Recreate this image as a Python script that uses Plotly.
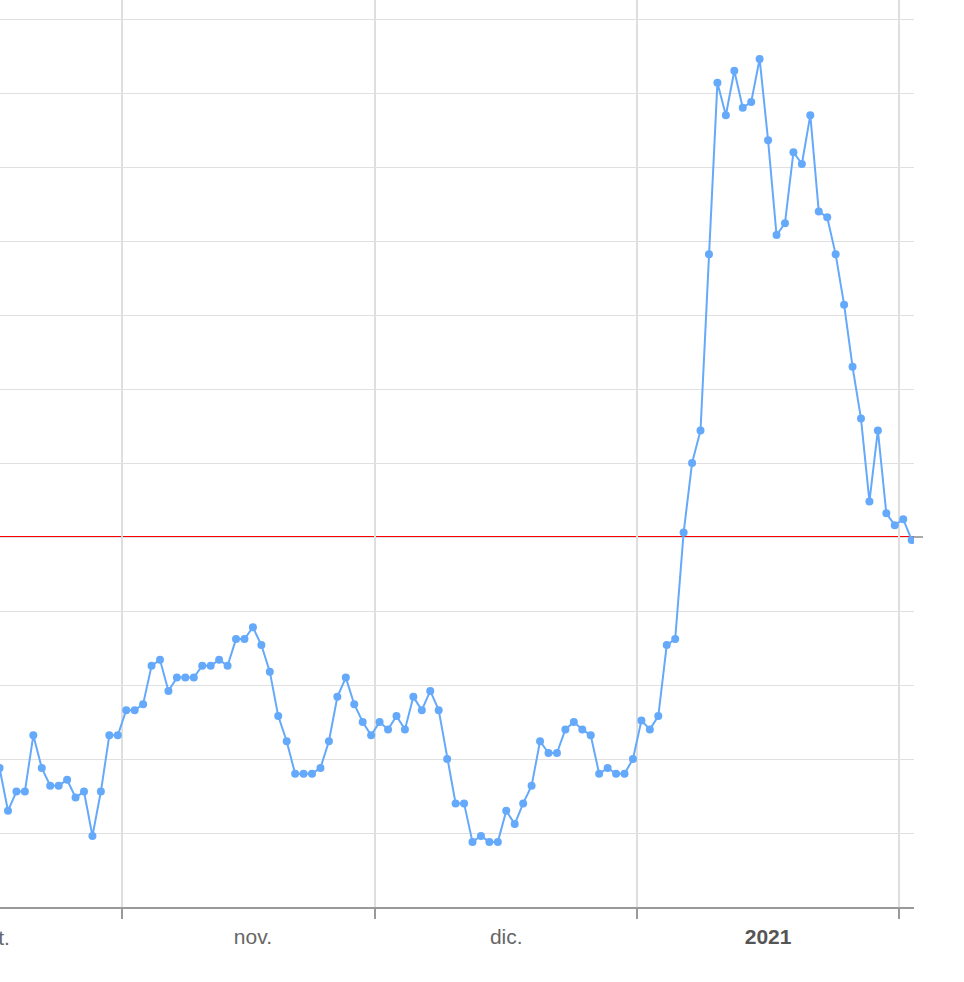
import pandas as pd
import plotly.graph_objects as go

# ---- data ----
start_date = "2020-10-17 12:00"
values = [
    0.844, 0.815, 0.828, 0.828, 0.866, 0.844, 0.832, 0.832, 0.836, 0.824,
    0.828, 0.798, 0.828, 0.866, 0.866, 0.883, 0.883, 0.887, 0.913, 0.917,
    0.896, 0.905, 0.905, 0.905, 0.913, 0.913, 0.917, 0.913, 0.931, 0.931,
    0.939, 0.927, 0.909, 0.879, 0.862, 0.840, 0.840, 0.840, 0.844, 0.862,
    0.892, 0.905, 0.887, 0.875, 0.866, 0.875, 0.870, 0.879, 0.870, 0.892,
    0.883, 0.896, 0.883, 0.850, 0.820, 0.820, 0.794, 0.798, 0.794, 0.794,
    0.815, 0.806, 0.820, 0.832, 0.862, 0.854, 0.854, 0.870, 0.875, 0.870,
    0.866, 0.840, 0.844, 0.840, 0.840, 0.850, 0.876, 0.870, 0.879, 0.927,
    0.931, 1.003, 1.050, 1.072, 1.191, 1.307, 1.285, 1.315, 1.290, 1.294,
    1.323, 1.268, 1.204, 1.212, 1.260, 1.252, 1.285, 1.220, 1.216, 1.191,
    1.157, 1.115, 1.080, 1.024, 1.072, 1.016, 1.008, 1.012, 0.998,
]
threshold = 1.0

month_starts = ["2020-10-01", "2020-11-01", "2020-12-01", "2021-01-01", "2021-02-01"]
label_dates = ["2020-11-16 12:00", "2020-12-16 12:00", "2021-01-16 12:00"]
label_texts = ["nov.", "dic.", "<b><span style='color:#555555'>2021</span></b>"]
partial_label_text = "oct."

x_range = ["2020-10-17 13:19", "2021-02-02 18:38"]
y_range = [0.75, 1.36284]

dates = pd.date_range(start_date, periods=len(values), freq="D")

BLUE = "#65a9fb"
FONT = "Liberation Sans, Arial, Helvetica, sans-serif"

fig = go.Figure()
fig.add_trace(go.Scatter(
    x=dates, y=values, mode="lines+markers",
    line=dict(color=BLUE, width=2),
    marker=dict(color=BLUE, size=8),
    showlegend=False, hoverinfo="x+y",
))

# threshold line
fig.add_shape(type="line", xref="paper", yref="y", x0=0, x1=1,
              y0=threshold, y1=threshold, layer="between",
              line=dict(color="#ff0000", width=2))
fig.add_shape(type="line", xref="paper", yref="y", x0=1, x1=1.0098,
              y0=threshold, y1=threshold, layer="between",
              line=dict(color="#aaaaaa", width=2))

# partially visible month label at the left edge (its period starts before the range)
fig.add_annotation(x=0, xref="paper", xanchor="right", xshift=12,
                   y=0, yref="paper", yanchor="middle", yshift=-30,
                   showarrow=False, text=partial_label_text,
                   font=dict(family=FONT, size=21, color="#666666"))

fig.update_layout(
    width=964, height=982,
    margin=dict(l=0, r=50, t=0, b=75),
    paper_bgcolor="white", plot_bgcolor="white",
    font=dict(family=FONT, size=21, color="#666666"),
    xaxis=dict(
        type="date", range=x_range,
        tickmode="array", tickvals=label_dates, ticktext=label_texts,
        ticks="outside", ticklen=10, tickcolor="rgba(0,0,0,0)",
        showgrid=False, zeroline=False,
        showline=True, linecolor="#999999", linewidth=2,
        minor=dict(tickmode="array", tickvals=month_starts,
                   ticks="outside", ticklen=10, tickwidth=2, tickcolor="#999999",
                   showgrid=True, gridcolor="#dedede", gridwidth=1.5),
        fixedrange=True,
    ),
    yaxis=dict(
        range=y_range, tick0=0.75, dtick=0.05,
        showticklabels=False, ticks="",
        showgrid=True, gridcolor="#e0e0e0", gridwidth=1.3,
        zeroline=False, showline=False, fixedrange=True,
    ),
)

fig.write_html("out.html",
               config={"displayModeBar": False},
               post_script="document.body.style.margin='0';document.body.style.padding='0';")
